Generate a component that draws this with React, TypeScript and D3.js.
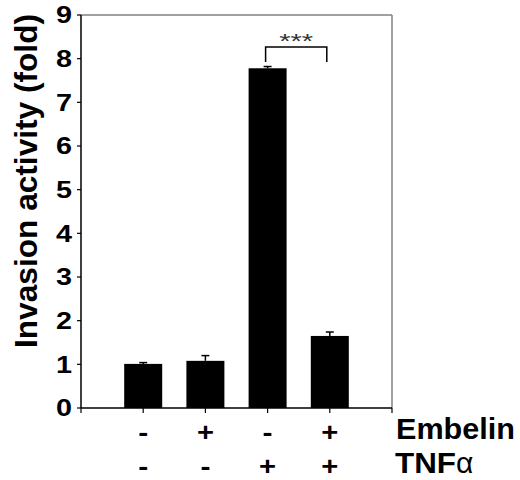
import { useRef, useEffect } from 'react';
import * as d3 from 'd3';

const groups = ['ctrl', 'emb', 'tnf', 'emb+tnf'];
const embelinRow = ['-', '+', '-', '+'];
const tnfRow = ['-', '-', '+', '+'];
const means = [1.01, 1.08, 7.78, 1.65];
const errors = [0.03, 0.12, 0.04, 0.09];
const yTicks = [0, 1, 2, 3, 4, 5, 6, 7, 8, 9];

const WIDTH = 520;
const HEIGHT = 480;
const PLOT = { left: 81, right: 392, top: 15, bottom: 408 };
const BAR_W = 38;
const FONT = '"Liberation Sans", Arial, sans-serif';

export default function App() {
  const svgRef = useRef<SVGSVGElement>(null);

  useEffect(() => {
    if (!svgRef.current) return;
    const svg = d3.select(svgRef.current);
    svg.selectAll('*').remove();

    const x = d3.scalePoint<string>().domain(groups).range([PLOT.left, PLOT.right]).padding(1);
    const y = d3.scaleLinear().domain([0, 9]).range([PLOT.bottom, PLOT.top]);

    // frame: grey top/right, black left/bottom
    svg.append('line')
      .attr('x1', PLOT.left).attr('x2', PLOT.right)
      .attr('y1', PLOT.top).attr('y2', PLOT.top)
      .attr('stroke', '#808080').attr('stroke-width', 1.5);
    svg.append('line')
      .attr('x1', PLOT.right).attr('x2', PLOT.right)
      .attr('y1', PLOT.top).attr('y2', PLOT.bottom)
      .attr('stroke', '#808080').attr('stroke-width', 1.5);

    // bars
    svg.selectAll('rect.bar')
      .data(means)
      .join('rect')
      .attr('class', 'bar')
      .attr('x', (_, i) => x(groups[i])! - BAR_W / 2)
      .attr('y', (d) => y(d))
      .attr('width', BAR_W)
      .attr('height', (d) => PLOT.bottom - y(d))
      .attr('fill', '#000');

    // error bars (upper only)
    const eb = svg.append('g').attr('stroke', '#000').attr('stroke-width', 1.5);
    means.forEach((m, i) => {
      const cx = x(groups[i])!;
      eb.append('line').attr('x1', cx).attr('x2', cx).attr('y1', y(m)).attr('y2', y(m + errors[i]));
      eb.append('line').attr('x1', cx - 4).attr('x2', cx + 4).attr('y1', y(m + errors[i])).attr('y2', y(m + errors[i]));
    });

    // y axis
    const yAxis = svg.append('g').attr('transform', `translate(${PLOT.left},0)`);
    yAxis.append('line').attr('y1', PLOT.top).attr('y2', PLOT.bottom).attr('stroke', '#000').attr('stroke-width', 1.5);
    yTicks.forEach((t) => {
      yAxis.append('line').attr('x1', -4).attr('x2', 0).attr('y1', y(t)).attr('y2', y(t)).attr('stroke', '#000').attr('stroke-width', 1.2);
      yAxis.append('text')
        .attr('x', -9)
        .attr('y', y(t) + 8.3)
        .attr('text-anchor', 'end')
        .attr('font-family', FONT)
        .attr('font-weight', 'bold')
        .attr('font-size', 23)
        .attr('textLength', 16)
        .attr('lengthAdjust', 'spacingAndGlyphs')
        .text(t);
    });

    // x axis
    const xAxis = svg.append('g').attr('transform', `translate(0,${PLOT.bottom})`);
    xAxis.append('line').attr('x1', PLOT.left).attr('x2', PLOT.right).attr('stroke', '#000').attr('stroke-width', 1.5);
    [PLOT.left, ...groups.map((g) => x(g)!), PLOT.right].forEach((px) => {
      xAxis.append('line').attr('x1', px).attr('x2', px).attr('y1', 0).attr('y2', 5).attr('stroke', '#000').attr('stroke-width', 1.2);
    });

    // treatment rows (+ / -), kept small enough that the text box stays inside the page
    const rows = [
      { signs: embelinRow, baseline: 440.5 },
      { signs: tnfRow, baseline: 474.5 },
    ];
    rows.forEach((r) => {
      svg.append('g')
        .selectAll('text')
        .data(r.signs)
        .join('text')
        .attr('x', (_, i) => x(groups[i])!)
        .attr('y', r.baseline)
        .attr('text-anchor', 'middle')
        .attr('font-family', FONT)
        .attr('font-weight', 'bold')
        .attr('font-size', 25)
        .attr('textLength', (d) => (d === '+' ? 17 : 10))
        .attr('lengthAdjust', 'spacingAndGlyphs')
        .text((d) => d);
    });

    svg.append('text')
      .attr('x', 396).attr('y', 439)
      .attr('font-family', FONT).attr('font-weight', 'bold').attr('font-size', 30)
      .attr('textLength', 119).attr('lengthAdjust', 'spacingAndGlyphs')
      .text('Embelin');
    const tnf = svg.append('text')
      .attr('x', 395).attr('y', 473)
      .attr('font-family', FONT).attr('font-size', 30);
    tnf.append('tspan').attr('font-weight', 'bold').attr('textLength', 61).attr('lengthAdjust', 'spacingAndGlyphs').text('TNF');
    tnf.append('tspan').text('α');

    // y label
    svg.append('text')
      .attr('transform', `translate(37,181) rotate(-90)`)
      .attr('text-anchor', 'middle')
      .attr('font-family', FONT)
      .attr('font-weight', 'bold')
      .attr('font-size', 31)
      .attr('textLength', 334)
      .attr('lengthAdjust', 'spacingAndGlyphs')
      .text('Invasion activity (fold)');

    // significance bracket
    const x1 = x(groups[2])! - 2;
    const x2 = x(groups[3])! - 3;
    const by = 47;
    svg.append('path')
      .attr('d', `M${x1},${by + 15}V${by}H${x2}V${by + 15}`)
      .attr('fill', 'none')
      .attr('stroke', '#000')
      .attr('stroke-width', 1.5);
    svg.append('text')
      .attr('x', (x1 + x2) / 2)
      .attr('y', 48)
      .attr('text-anchor', 'middle')
      .attr('font-family', FONT)
      .attr('font-size', 20)
      .attr('fill', '#333')
      .attr('textLength', 34)
      .attr('lengthAdjust', 'spacingAndGlyphs')
      .text('***');
  }, []);

  return (
    <svg
      ref={svgRef}
      width={WIDTH}
      height={HEIGHT}
      viewBox={`0 0 ${WIDTH} ${HEIGHT}`}
      style={{ position: 'absolute', left: 0, top: 0, background: '#fff' }}
    />
  );
}
